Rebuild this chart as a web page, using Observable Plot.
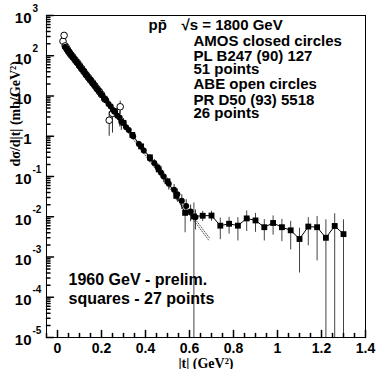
<!DOCTYPE html>
<html><head><meta charset="utf-8">
<script src="https://cdn.jsdelivr.net/npm/d3@7"></script>
<script src="https://cdn.jsdelivr.net/npm/@observablehq/plot@0.6"></script>
<style>body{margin:0;background:#fff}</style>
</head><body><div id="chart"></div>
<script>
// AMOS (E710) 1800 GeV, closed circles, 51 points
const amosT = [0.034,0.040,0.046,0.052,0.058,0.064,0.070,0.077,0.084,0.091,0.098,0.105,0.112,0.120,0.128,0.136,0.144,0.152,0.160,0.168,0.177,0.186,0.195,0.204,0.213,0.222,0.232,0.242,0.252,0.262,0.272,0.283,0.290,0.300,0.312,0.324,0.344,0.370,0.392,0.420,0.440,0.456,0.470,0.483,0.506,0.530,0.545,0.565,0.585,0.605,0.627];
const amosV = [165,152,138,126,111,103,91,83,72,66,57,52,45.5,41,35,31.5,27,24.2,20.6,18.6,15.6,13.9,11.6,10.3,8.6,7.7,6.3,5.5,4.5,4.0,3.25,2.9,2.3,2.15,1.68,1.42,1.0,0.64,0.44,0.28,0.215,0.17,0.125,0.100,0.066,0.047,0.036,0.025,0.0185,0.0135,0.0097];
const amosE = [5,4.5,4,3.8,3.3,3.1,2.7,2.5,2.2,2,1.7,1.6,1.4,1.2,1.1,1,0.8,0.75,0.65,0.6,0.5,0.45,0.4,0.45,0.4,0.38,0.35,0.35,0.3,0.3,0.3,1.2,0.9,0.6,0.25,0.22,0.16,0.11,0.08,0.06,0.05,0.04,0.035,0.03,0.02,0.016,0.013,0.01,0.008,0.006,0.005];
// ABE (CDF) 1800 GeV, open circles, 26 points
const abeT = [0.025,0.030,0.035,0.040,0.045,0.050,0.056,0.062,0.070,0.080,0.090,0.100,0.110,0.120,0.130,0.140,0.150,0.160,0.170,0.180,0.190,0.200,0.215,0.235,0.250,0.285];
const abeV = [230,320,175,160,143,128,116,104,93,79,68,57,48,40.5,34,29,24.8,21.2,18.0,15.2,13.0,10.9,8.4,2.5,3.7,5.4];
const abeE = [15,20,5,4.5,4,3.6,3.3,3,2.7,2.3,2,1.7,1.4,1.2,1,0.9,0.8,0.7,0.6,0.5,0.45,0.4,0.4,1.5,2.5,2.0];
// 1960 GeV preliminary, squares, 27 points
const d0T = [0.26,0.30,0.34,0.38,0.42,0.46,0.50,0.54,0.58,0.62,0.66,0.70,0.74,0.78,0.82,0.86,0.90,0.94,0.98,1.02,1.06,1.10,1.14,1.18,1.22,1.26,1.30];
const d0V = [4.2,2.15,1.08,0.56,0.30,0.150,0.076,0.033,0.0125,0.0102,0.0106,0.0107,0.0060,0.0067,0.0060,0.0091,0.0081,0.0055,0.0070,0.0055,0.0046,0.0028,0.0057,0.0055,0.0030,0.0059,0.0037];
const d0E = [0.5,0.25,0.13,0.07,0.04,0.025,0.015,0.008,0.0085,0.0118,0.0030,0.0030,0.0033,0.0030,0.0035,0.0048,0.0040,0.0030,0.0035,0.0031,0.0031,0.0024,0.0038,0.0047,0.0054,0.0060,0.0047];
// exponential fits (dotted)
const fitT = [0.03, 0.69];
const fitA = [180, 0.0030];
const fitB = [165, 0.0025];
// axis ticks & labels
const xMajor = [0,0.2,0.4,0.6,0.8,1.0,1.2,1.4];
const xLabels = ["0","0.2","0.4","0.6","0.8","1","1.2","1.4"];
const xMinor = [-0.05,0.05,0.1,0.15,0.25,0.3,0.35,0.45,0.5,0.55,0.65,0.7,0.75,0.85,0.9,0.95,1.05,1.1,1.15,1.25,1.3,1.35];
const yMajor = [1e3,1e2,1e1,1e0,1e-1,1e-2,1e-3,1e-4,1e-5];
const yBase = ["10","10","10","1","10","10","10","10","10"];
const yExp = ["3","2","","","-1","-2","-3","-4","-5"];
const yMinorMant = [2,3,4,5,6,7,8,9];
const yMinorDec = [-5,-4,-3,-2,-1,0,1,2];
const xTitle = "|t| (GeV²)";
const yTitle = "dσ/d|t| (mb/GeV²)";
const notes = ["pp̄","√s = 1800 GeV","AMOS closed circles","PL B247 (90) 127","51 points","ABE open circles","PR D50 (93) 5518","26 points"];
const notes2 = ["1960 GeV - prelim.","squares - 27 points"];

const mk = (T,V,E) => T.map((t,i)=>({t, v:V[i], e:E[i]}));
const amos = mk(amosT, amosV, amosE);
const abe = mk(abeT, abeV, abeE);
const d0 = mk(d0T, d0V, d0E);
const fits = [...fitT.map((t,i)=>({t, v:fitA[i], k:"A"})), ...fitT.map((t,i)=>({t, v:fitB[i], k:"B"}))];
const yMinor = yMinorDec.flatMap(k => yMinorMant.map(m => m*Math.pow(10,k)));
const lo = d => (d.v - d.e > 0 ? d.v - d.e : 1e-12);
const hi = d => d.v + d.e;
const tickShape = {draw(ctx, l){ ctx.moveTo(0,0); ctx.lineTo(0,-l); }};
const bold = {fontWeight:"bold", fill:"black"};

// annotation placement (pixel offsets from the frame's top-left corner)
const notePos = [[102,4],[135,4],[147,20],[147,35],[147,48],[147,63],[147,79],[147,92]];
const note2Pos = [[22,258],[22,277]];
const noteMarks = notes.map((s,i)=>Plot.text([s], {frameAnchor:"top-left", text:d=>d, dx:notePos[i][0], dy:notePos[i][1], textAnchor:"start", fontSize:15, ...bold}));
const note2Marks = notes2.map((s,i)=>Plot.text([s], {frameAnchor:"top-left", text:d=>d, dx:note2Pos[i][0], dy:note2Pos[i][1], textAnchor:"start", fontSize:16, ...bold}));

const chart = Plot.plot({
  width: 376, height: 369,
  marginLeft: 46, marginRight: 11, marginTop: 15, marginBottom: 32,
  x: {domain: [-0.05, 1.4], axis: null},
  y: {type: "log", domain: [1e-5, 1e3], axis: null, clamp: true},
  style: {fontFamily: "'Liberation Sans', Arial, sans-serif", background: "white", overflow: "visible"},
  marks: [
    Plot.line(fits, {x:"t", y:"v", z:"k", stroke:"#333", strokeWidth:0.8, strokeDasharray:"1,1.5"}),
    Plot.ruleX(abe, {x:"t", y1:lo, y2:hi, stroke:"#333", strokeWidth:1}),
    Plot.ruleX(amos, {x:"t", y1:lo, y2:hi, stroke:"#333", strokeWidth:1}),
    Plot.ruleX(d0, {x:"t", y1:lo, y2:hi, stroke:"#444", strokeWidth:1}),
    Plot.dot(abe, {x:"t", y:"v", r:3.3, fill:"white", stroke:"black", strokeWidth:1}),
    Plot.dot(amos, {x:"t", y:"v", r:3, fill:"black"}),
    Plot.line(d0, {x:"t", y:"v", stroke:"black", strokeWidth:1}),
    Plot.dot(d0, {x:"t", y:"v", r:3.3, symbol:"square", fill:"black"}),
    Plot.frame({stroke:"black", strokeWidth:1}),
    // inward ticks
    Plot.vector(xMajor, {x:d=>d, frameAnchor:"bottom", length:7, rotate:0, anchor:"start", shape:tickShape, stroke:"black"}),
    Plot.vector(xMinor, {x:d=>d, frameAnchor:"bottom", length:4, rotate:0, anchor:"start", shape:tickShape, stroke:"black"}),
    Plot.vector(yMajor, {y:d=>d, frameAnchor:"left", length:7, rotate:90, anchor:"start", shape:tickShape, stroke:"black"}),
    Plot.vector(yMinor, {y:d=>d, frameAnchor:"left", length:3.5, rotate:90, anchor:"start", shape:tickShape, stroke:"black"}),
    // tick labels
    Plot.text(xMajor, {x:d=>d, frameAnchor:"bottom", text:(d,i)=>xLabels[i], dy:11, lineAnchor:"middle", fontSize:14, ...bold}),
    Plot.text(yMajor, {y:d=>d, frameAnchor:"left", text:(d,i)=>yBase[i], dx:-15, dy:3, textAnchor:"end", fontSize:15, ...bold}),
    Plot.text(yMajor, {y:d=>d, frameAnchor:"left", text:(d,i)=>yExp[i], dx:-14, dy:-7, textAnchor:"start", fontSize:10, ...bold}),
    // titles
    Plot.text([xTitle], {frameAnchor:"bottom", text:d=>d, dy:30, fontSize:14, fontFamily:"'Liberation Serif', serif", ...bold}),
    Plot.text([yTitle], {frameAnchor:"left", text:d=>d, dx:-31, dy:-10, rotate:-90, fontSize:14, fontFamily:"'Liberation Serif', serif", ...bold}),
    ...noteMarks,
    ...note2Marks
  ]
});
document.getElementById("chart").appendChild(chart);
</script>
</body></html>
